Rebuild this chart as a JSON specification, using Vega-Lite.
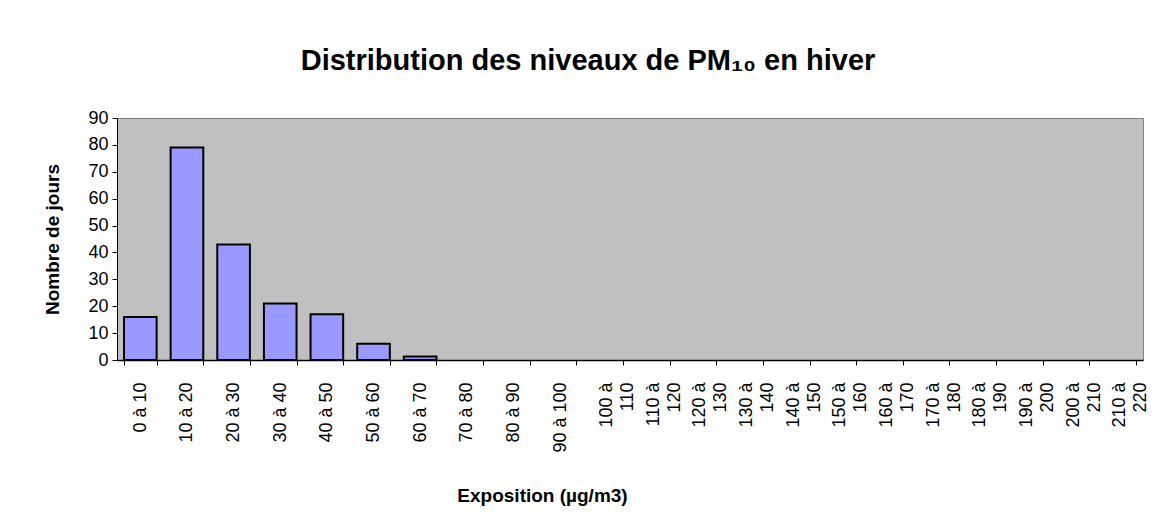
{
  "$schema": "https://vega.github.io/schema/vega-lite/v6.json",
  "width": 1026,
  "height": 242,
  "autosize": {"type": "none"},
  "padding": {"left": 117, "top": 118, "right": 27, "bottom": 155},
  "background": "white",
  "title": {
    "text": "Distribution des niveaux de PM₁₀ en hiver",
    "font": "Liberation Sans",
    "fontSize": 29,
    "fontWeight": "bold",
    "color": "black",
    "anchor": "middle",
    "offset": 33,
    "dx": -42
  },
  "data": {
    "values": [
      {"classe": "0 à 10", "jours": 16},
      {"classe": "10 à 20", "jours": 79},
      {"classe": "20 à 30", "jours": 43},
      {"classe": "30 à 40", "jours": 21},
      {"classe": "40 à 50", "jours": 17},
      {"classe": "50 à 60", "jours": 6},
      {"classe": "60 à 70", "jours": 1.3},
      {"classe": "70 à 80", "jours": 0},
      {"classe": "80 à 90", "jours": 0},
      {"classe": "90 à 100", "jours": 0},
      {"classe": "100 à 110", "jours": 0},
      {"classe": "110 à 120", "jours": 0},
      {"classe": "120 à 130", "jours": 0},
      {"classe": "130 à 140", "jours": 0},
      {"classe": "140 à 150", "jours": 0},
      {"classe": "150 à 160", "jours": 0},
      {"classe": "160 à 170", "jours": 0},
      {"classe": "170 à 180", "jours": 0},
      {"classe": "180 à 190", "jours": 0},
      {"classe": "190 à 200", "jours": 0},
      {"classe": "200 à 210", "jours": 0},
      {"classe": "210 à 220", "jours": 0}
    ]
  },
  "mark": {"type": "bar", "fill": "#9999FF", "stroke": "black", "strokeWidth": 2},
  "encoding": {
    "x": {
      "field": "classe",
      "type": "ordinal",
      "sort": null,
      "scale": {"paddingInner": 0.3, "paddingOuter": 0.15},
      "axis": {
        "title": "Exposition (µg/m3)",
        "titleFont": "Liberation Sans",
        "titleFontSize": 19,
        "titleFontWeight": "bold",
        "titleColor": "black",
        "titleX": 425,
        "titleY": 135,
        "titleAlign": "center",
        "titleBaseline": "middle",
        "labelAngle": -90,
        "labelFont": "Liberation Sans",
        "labelFontSize": 18,
        "labelColor": "black",
        "labelLineHeight": 21,
        "labelPadding": 17,
        "labelExpr": "length(datum.label) >= 9 ? [slice(datum.label, 0, 5), slice(datum.label, 6)] : datum.label",
        "tickBand": "extent",
        "tickColor": "black",
        "tickSize": 5,
        "domainColor": "black",
        "domainWidth": 1.5
      }
    },
    "y": {
      "field": "jours",
      "type": "quantitative",
      "scale": {"domain": [0, 90]},
      "axis": {
        "title": "Nombre de jours",
        "titleFont": "Liberation Sans",
        "titleFontSize": 19,
        "titleFontWeight": "bold",
        "titleColor": "black",
        "titlePadding": 25,
        "values": [0, 10, 20, 30, 40, 50, 60, 70, 80, 90],
        "grid": false,
        "labelFont": "Liberation Sans",
        "labelFontSize": 18,
        "labelColor": "black",
        "labelPadding": 4,
        "tickColor": "black",
        "tickSize": 5,
        "domainColor": "black"
      }
    },
    "strokeOpacity": {"condition": {"test": "datum.jours > 0", "value": 1}, "value": 0}
  },
  "config": {
    "view": {"fill": "#C0C0C0", "stroke": "#808080"}
  }
}
